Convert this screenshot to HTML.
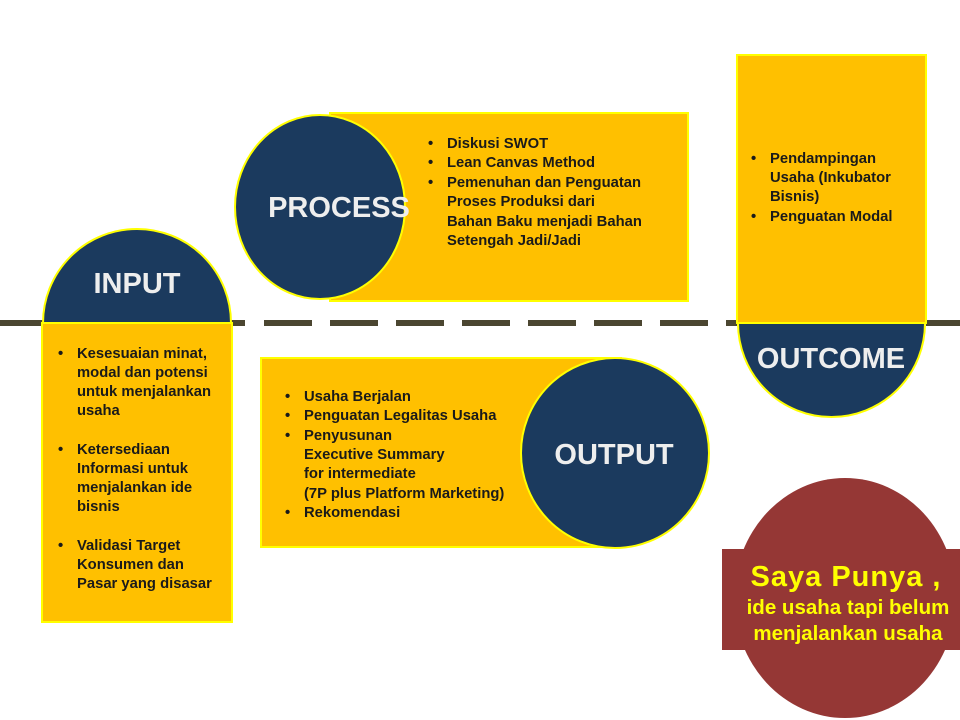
<!DOCTYPE html>
<html><head><meta charset="utf-8"><style>
html,body{margin:0;padding:0;background:#fff;}
svg{display:block;}
text{font-family:"Liberation Sans",sans-serif;font-weight:bold;}
.b{font-size:14.8px;fill:#1a1a1a;}
.t{font-size:29px;fill:#eeeeee;}
</style></head><body>
<svg width="960" height="720" viewBox="0 0 960 720" xmlns="http://www.w3.org/2000/svg">
<rect width="960" height="720" fill="#fff"/>
<rect x="0" y="320" width="245" height="6" fill="#4b4631"/>
<line x1="264" y1="323" x2="737" y2="323" stroke="#4b4631" stroke-width="6" stroke-dasharray="48 18"/>
<rect x="926" y="320" width="34" height="6" fill="#4b4631"/>

<!-- INPUT -->
<path d="M43 323 A94 94 0 0 1 231 323 Z" fill="#1b3a5e" stroke="#ffff00" stroke-width="2"/>
<rect x="42" y="323" width="190" height="299" fill="#ffc000" stroke="#ffff00" stroke-width="2"/>
<text class="t" x="137" y="293" text-anchor="middle">INPUT</text>
<text class="b" x="58" y="358">•</text>
<text class="b" x="77" y="358">Kesesuaian minat,</text>
<text class="b" x="77" y="377">modal dan potensi</text>
<text class="b" x="77" y="396">untuk menjalankan</text>
<text class="b" x="77" y="415">usaha</text>
<text class="b" x="58" y="454">•</text>
<text class="b" x="77" y="454">Ketersediaan</text>
<text class="b" x="77" y="473">Informasi untuk</text>
<text class="b" x="77" y="492">menjalankan ide</text>
<text class="b" x="77" y="511">bisnis</text>
<text class="b" x="58" y="550">•</text>
<text class="b" x="77" y="550">Validasi Target</text>
<text class="b" x="77" y="569">Konsumen dan</text>
<text class="b" x="77" y="588">Pasar yang disasar</text>

<!-- PROCESS -->
<rect x="330" y="113" width="358" height="188" fill="#ffc000" stroke="#ffff00" stroke-width="2"/>
<ellipse cx="320" cy="207" rx="85" ry="92" fill="#1b3a5e" stroke="#ffff00" stroke-width="2"/>
<text class="t" x="339" y="217" text-anchor="middle">PROCESS</text>
<text class="b" x="428" y="148">•</text><text class="b" x="447" y="148">Diskusi SWOT</text>
<text class="b" x="428" y="167">•</text><text class="b" x="447" y="167">Lean Canvas Method</text>
<text class="b" x="428" y="187">•</text><text class="b" x="447" y="187">Pemenuhan dan Penguatan</text>
<text class="b" x="447" y="206">Proses Produksi dari</text>
<text class="b" x="447" y="226">Bahan Baku menjadi Bahan</text>
<text class="b" x="447" y="245">Setengah Jadi/Jadi</text>

<!-- OUTPUT -->
<rect x="261" y="358" width="360" height="189" fill="#ffc000" stroke="#ffff00" stroke-width="2"/>
<ellipse cx="615" cy="453" rx="94" ry="95" fill="#1b3a5e" stroke="#ffff00" stroke-width="2"/>
<text class="t" x="614" y="464" text-anchor="middle">OUTPUT</text>
<text class="b" x="285" y="401">•</text><text class="b" x="304" y="401">Usaha Berjalan</text>
<text class="b" x="285" y="420">•</text><text class="b" x="304" y="420">Penguatan Legalitas Usaha</text>
<text class="b" x="285" y="440">•</text><text class="b" x="304" y="440">Penyusunan</text>
<text class="b" x="304" y="459">Executive Summary</text>
<text class="b" x="304" y="478">for intermediate</text>
<text class="b" x="304" y="498">(7P plus Platform Marketing)</text>
<text class="b" x="285" y="517">•</text><text class="b" x="304" y="517">Rekomendasi</text>

<!-- OUTCOME -->
<rect x="737" y="55" width="189" height="268" fill="#ffc000" stroke="#ffff00" stroke-width="2"/>
<path d="M738 323 A93.5 94 0 0 0 925 323 Z" fill="#1b3a5e" stroke="#ffff00" stroke-width="2"/>
<text class="t" x="831" y="368" text-anchor="middle">OUTCOME</text>
<text class="b" x="751" y="163">•</text><text class="b" x="770" y="163">Pendampingan</text>
<text class="b" x="770" y="182">Usaha (Inkubator</text>
<text class="b" x="770" y="201">Bisnis)</text>
<text class="b" x="751" y="221">•</text><text class="b" x="770" y="221">Penguatan Modal</text>

<!-- red circle -->
<ellipse cx="845" cy="598" rx="111" ry="120" fill="#953735"/>
<rect x="722" y="549" width="238" height="101" fill="#953735"/>
<text x="846" y="586" text-anchor="middle" style="font-size:29px;fill:#ffff00;letter-spacing:1px;">Saya  Punya ,</text>
<text x="848" y="614" text-anchor="middle" style="font-size:20.5px;fill:#ffff00;">ide usaha tapi belum</text>
<text x="848" y="640" text-anchor="middle" style="font-size:20.5px;fill:#ffff00;">menjalankan usaha</text>
</svg>
</body></html>
